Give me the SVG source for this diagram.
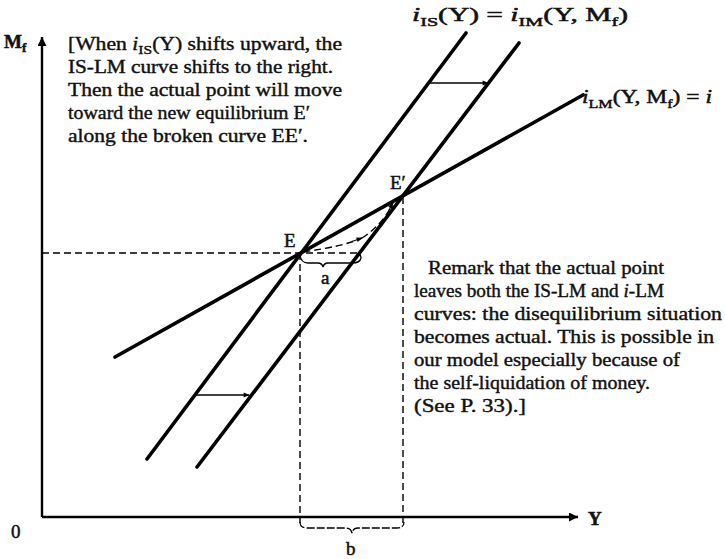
<svg xmlns="http://www.w3.org/2000/svg" width="725" height="559" viewBox="0 0 725 559">
<style>
.t{font-family:'Liberation Serif','Times New Roman',Times,serif;font-size:18px;fill:#111;stroke:#111;stroke-width:0.4}
.lab{font-family:'Liberation Serif','Times New Roman',Times,serif;font-size:19px;fill:#111;stroke:#111;stroke-width:0.5}
.sub{font-size:13px}
.it{font-style:italic}
.curve{fill:none;stroke:#000;stroke-width:3.6;stroke-linecap:round}
.axis{fill:none;stroke:#000;stroke-width:2.4}
.dash{fill:none;stroke:#000;stroke-width:1.4;stroke-dasharray:7,4}
.thin{fill:none;stroke:#000;stroke-width:1.3}
</style>
<defs>
<marker id="ah" viewBox="0 0 10 10" refX="9" refY="5" markerWidth="7" markerHeight="6" orient="auto" markerUnits="userSpaceOnUse">
<path d="M0,1 L10,5 L0,9 z" fill="#000"/>
</marker>
<marker id="ax" viewBox="0 0 10 10" refX="10" refY="5" markerWidth="14" markerHeight="9" orient="auto" markerUnits="userSpaceOnUse">
<path d="M0,0 L10,5 L0,10 z" fill="#000"/>
</marker>
</defs>

<g id="axes">
<line class="axis" x1="42" y1="517" x2="42" y2="37" marker-end="url(#ax)"/>
<line class="axis" x1="42" y1="517" x2="578" y2="517" marker-end="url(#ax)"/>
<text class="lab" x="4" y="48" font-weight="bold" font-size="20">M<tspan class="sub" dy="4">f</tspan></text>
<text class="lab" x="588" y="525" font-family="'Liberation Sans', Arial, sans-serif" font-size="19" font-weight="bold">Y</text>
<text class="lab" x="11" y="538" font-family="'Liberation Sans', Arial, sans-serif" font-size="17">0</text>
</g>

<g id="IS1">
<line class="curve" x1="147" y1="459" x2="466" y2="33"/>
</g>
<g id="IS2">
<line class="curve" x1="197" y1="467" x2="519" y2="43"/>
</g>
<g id="LM">
<line class="curve" x1="115" y1="357" x2="583" y2="95"/>
</g>

<g id="connectors">
<line class="thin" x1="429" y1="83" x2="488" y2="83" marker-end="url(#ah)"/>
<line class="thin" x1="196" y1="395" x2="249" y2="395" marker-end="url(#ah)"/>
<line class="dash" x1="42" y1="253" x2="358" y2="253"/>
<line class="dash" x1="300" y1="253" x2="300" y2="523"/>
<line class="dash" x1="403" y1="197" x2="403" y2="523"/>
<path class="dash" d="M303,252 Q345,246 362,238"/>
<path class="dash" d="M362,238 Q382,225 392,205"/>
<path d="M352,241.5 L362,238" class="thin" marker-end="url(#ah)"/>
<path d="M389,210 L393,203" class="thin" marker-end="url(#ah)"/>
<path class="thin" stroke-width="1.4" d="M300,255 Q301,263 308,263 L318,263 Q322,263 323,267 Q324,263 328,263 L352,263 Q360,263 361,258 Q361,254 357,254"/>
<path class="thin" stroke-dasharray="8,2" d="M300,522 Q300,528 307,528 L346,528 Q351,528 352,533 Q353,528 358,528 L397,528 Q404,528 404,522"/>
</g>

<g id="labels">
<text class="lab" x="284" y="247">E</text>
<text class="lab" x="390" y="189">E′</text>
<text class="lab" x="321" y="284">a</text>
<text class="lab" x="346" y="555">b</text>
<text class="lab" x="412" y="21" textLength="216" lengthAdjust="spacingAndGlyphs"><tspan class="it">i</tspan><tspan class="sub" dy="5">IS</tspan><tspan dy="-5">(Y) = </tspan><tspan class="it">i</tspan><tspan class="sub" dy="5">IM</tspan><tspan dy="-5">(Y, M</tspan><tspan class="sub" dy="5">f</tspan><tspan dy="-5">)</tspan></text>
<text class="lab" x="582" y="103" textLength="130" lengthAdjust="spacingAndGlyphs"><tspan class="it">i</tspan><tspan class="sub" dy="5">LM</tspan><tspan dy="-5">(Y, M</tspan><tspan class="sub" dy="5">f</tspan><tspan dy="-5">) = </tspan><tspan class="it">i</tspan></text>
</g>

<g id="note-left">
<text class="t" x="68" y="50" textLength="274" lengthAdjust="spacingAndGlyphs">[When <tspan class="it">i</tspan><tspan class="sub" dy="4">IS</tspan><tspan dy="-4">(Y) shifts upward, the</tspan></text>
<text class="t" x="68" y="73" textLength="265" lengthAdjust="spacingAndGlyphs">IS-LM curve shifts to the right.</text>
<text class="t" x="68" y="96" textLength="274" lengthAdjust="spacingAndGlyphs">Then the actual point will move</text>
<text class="t" x="68" y="119" textLength="242" lengthAdjust="spacingAndGlyphs">toward the new equilibrium E′</text>
<text class="t" x="68" y="142" textLength="240" lengthAdjust="spacingAndGlyphs">along the broken curve EE′.</text>
</g>

<g id="note-right">
<text class="t" x="428" y="274" textLength="236" lengthAdjust="spacingAndGlyphs">Remark that the actual point</text>
<text class="t" x="414" y="297" textLength="250" lengthAdjust="spacingAndGlyphs">leaves both the IS-LM and <tspan class="it">i</tspan>-LM</text>
<text class="t" x="414" y="320" textLength="308" lengthAdjust="spacingAndGlyphs">curves: the disequilibrium situation</text>
<text class="t" x="414" y="343" textLength="300" lengthAdjust="spacingAndGlyphs">becomes actual. This is possible in</text>
<text class="t" x="414" y="366" textLength="266" lengthAdjust="spacingAndGlyphs">our model especially because of</text>
<text class="t" x="414" y="389" textLength="236" lengthAdjust="spacingAndGlyphs">the self-liquidation of money.</text>
<text class="t" x="414" y="412" textLength="112" lengthAdjust="spacingAndGlyphs">(See P. 33).]</text>
</g>
</svg>
